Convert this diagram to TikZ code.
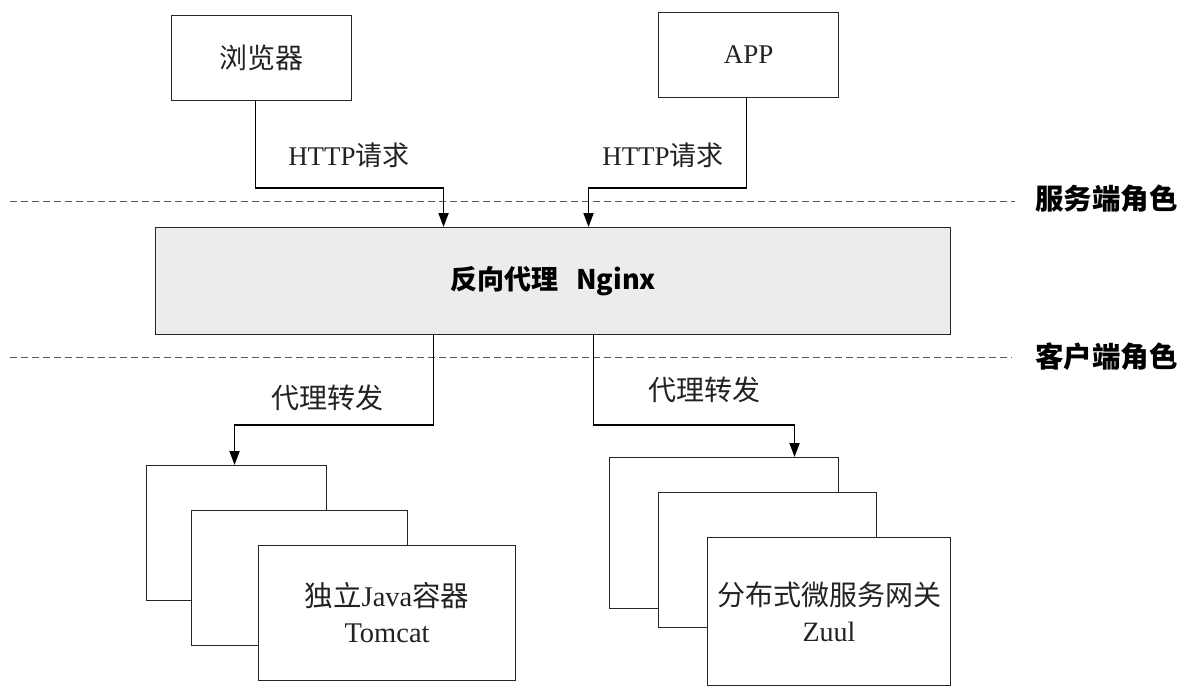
\documentclass[tikz,border=0pt]{standalone}
\usepackage{fontspec}
\setmainfont{Liberation Serif}
\newfontfamily\cjk{Noto Sans CJK SC}
\usetikzlibrary{arrows.meta,calc}
\definecolor{txt}{HTML}{222222}
\definecolor{ngx}{HTML}{ECECEC}
\begin{document}
\begin{tikzpicture}[x=1pt,y=-1pt,
  box/.style={draw=black!85,line width=1.1pt,fill=white,inner sep=0pt,anchor=north west,text=txt},
  lbl/.style={text=txt,inner sep=0pt,font=\fontsize{27}{32}\selectfont},
  role/.style={text=black,inner sep=0pt,anchor=west,font=\fontsize{28.5}{32}\selectfont\cjk\bfseries},
  arr/.style={draw=black,line width=1.8pt,-{Triangle[length=14pt,width=10pt]}},
  sep/.style={draw=black!65,line width=1pt,dash pattern=on 7pt off 4pt}]
\fill[white] (0,0) rectangle (1184,696);
\useasboundingbox (0,0) rectangle (1184,696);
% top boxes
\node[box,minimum width=180pt,minimum height=85pt,font=\fontsize{28}{32}\selectfont\cjk] (browser) at (171,15) {浏览器};
\node[box,minimum width=180pt,minimum height=85pt,font=\fontsize{27}{32}\selectfont] (app) at (658,12) {APP};
% nginx
\node[box,fill=ngx,minimum width=795pt,minimum height=107pt,text=black,font=\fontsize{27}{32}\selectfont\cjk\bfseries] (nginx) at (155,227) {反向代理\hspace{18pt}Nginx};
% roles and dashed lines
\node[role] (srv) at (1035,199) {服务端角色};
\node[role] (cli) at (1035,357) {客户端角色};
\coordinate (d1) at (10,201);
\coordinate (d2) at (10,357);
\draw[sep] (d1) -- ([xshift=-20pt,yshift=-2pt]srv.west);
\draw[sep] (d2) -- ([xshift=-23pt]cli.west);
% tomcat stack
\node[box,minimum width=180pt,minimum height=135pt] (t1) at (146,465) {};
\node[box,minimum width=216pt,minimum height=135pt] (t2) at (191,510) {};
\node[box,minimum width=257pt,minimum height=135pt,align=center,font=\fontsize{28.5}{36}\selectfont] (t3) at (258,545) {{\cjk 独立}Java{\cjk 容器}\\Tomcat};
% zuul stack
\node[box,minimum width=229pt,minimum height=151pt] (z1) at (609,457) {};
\node[box,minimum width=218pt,minimum height=135pt] (z2) at (658,492) {};
\node[box,minimum width=243pt,minimum height=148pt,align=center,font=\fontsize{28}{36}\selectfont] (z3) at (707,537) {{\cjk 分布式微服务网关}\\Zuul};
% connectors
\draw[arr] ([xshift=-6pt]browser.south) -- ++(0,87) -| ([xshift=-109.5pt]nginx.north);
\draw[arr] ([xshift=-2pt]app.south) -- ++(0,90) -| ([xshift=35.5pt]nginx.north);
\draw[arr] ([xshift=-119.5pt]nginx.south) -- ++(0,90) -| ([xshift=-2pt]t1.north);
\draw[arr] ([xshift=40.5pt]nginx.south) -- ++(0,90) -| ([xshift=70.5pt]z1.north);
% labels
\node[lbl] (h1) at (349,155) {HTTP{\cjk 请求}};
\node[lbl] (h2) at (663,155) {HTTP{\cjk 请求}};
\node[lbl,font=\fontsize{28}{32}\selectfont\cjk] (p1) at (327,398) {代理转发};
\node[lbl,font=\fontsize{28}{32}\selectfont\cjk] (p2) at (704,390) {代理转发};
\end{tikzpicture}
\end{document}
